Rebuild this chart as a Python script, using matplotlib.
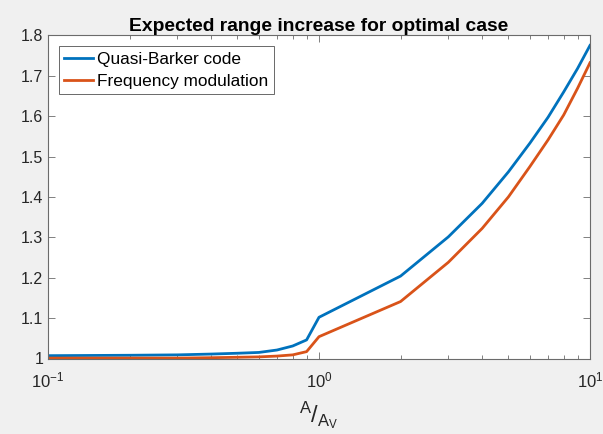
import matplotlib
matplotlib.use("Agg")
import matplotlib.pyplot as plt
from matplotlib.ticker import FixedLocator, LogLocator, NullFormatter

plt.rcParams['font.family'] = ['Liberation Sans', 'DejaVu Sans']
plt.rcParams['mathtext.fontset'] = 'custom'
plt.rcParams['mathtext.rm'] = 'Liberation Sans'
plt.rcParams['mathtext.it'] = 'Liberation Sans'
plt.rcParams['mathtext.bf'] = 'Liberation Sans:bold'

ratio = [0.1, 0.2, 0.3, 0.4, 0.5, 0.6, 0.7, 0.8, 0.9, 1, 2, 3, 4, 5, 6, 7, 8, 9, 10]
quasi_barker = [1.007, 1.008, 1.009, 1.011, 1.013, 1.015, 1.021, 1.031, 1.046, 1.102,
                1.204, 1.301, 1.384, 1.462, 1.533, 1.597, 1.660, 1.718, 1.775]
freq_mod = [1.001, 1.001, 1.001, 1.002, 1.003, 1.004, 1.006, 1.009, 1.017, 1.054,
            1.141, 1.238, 1.322, 1.400, 1.475, 1.541, 1.603, 1.669, 1.732]
series_labels = ['Quasi-Barker code', 'Frequency modulation']
title = 'Expected range increase for optimal case'
yticks = [1.0, 1.1, 1.2, 1.3, 1.4, 1.5, 1.6, 1.7, 1.8]
ytick_labels = ['1', '1.1', '1.2', '1.3', '1.4', '1.5', '1.6', '1.7', '1.8']

fig = plt.figure(figsize=(6.03, 4.34), dpi=100, facecolor='#f0f0f0')
ax = fig.add_axes([48/603, 1-358.5/434, (590-48)/603, (358.5-35.3)/434])
ax.set_facecolor('white')

ax.plot(ratio, quasi_barker, color='#0072bd', lw=2.0, label=series_labels[0])
ax.plot(ratio, freq_mod, color='#d95319', lw=2.0, label=series_labels[1])

ax.set_xscale('log')
ax.set_xlim(0.1, 10)
ax.set_ylim(1.0, 1.8)
ax.yaxis.set_major_locator(FixedLocator(yticks))
ax.set_yticklabels(ytick_labels)
ax.xaxis.set_major_locator(LogLocator(base=10, numticks=10))
ax.xaxis.set_minor_locator(LogLocator(base=10, subs=range(2, 10), numticks=20))
ax.xaxis.set_minor_formatter(NullFormatter())

axcol = '#6b6b6b'
for s in ax.spines.values():
    s.set_color(axcol)
    s.set_linewidth(0.8)
ax.tick_params(which='both', direction='in', top=True, right=True, color=axcol,
               labelcolor='#262626', labelsize=11.5, width=0.6)
ax.tick_params(which='major', length=5)
ax.tick_params(which='minor', length=3)
ax.tick_params(axis='x', which='major', pad=9, labelsize=12)

ax.set_title(title, fontsize=13.9, fontweight='bold', color='black', pad=0)
ax.set_xlabel(r'$^{\mathrm{A}}/_{\mathrm{A_V}}$', fontsize=17, color='#262626', labelpad=6)

leg = ax.legend(loc='upper left', fontsize=12.4, frameon=True, fancybox=False,
                edgecolor='#262626', borderpad=0.3, handlelength=1.65,
                handletextpad=0.25, labelspacing=0.42, borderaxespad=0.65)
leg.get_frame().set_linewidth(0.6)

fig.savefig('out.png', dpi=100, facecolor=fig.get_facecolor())
